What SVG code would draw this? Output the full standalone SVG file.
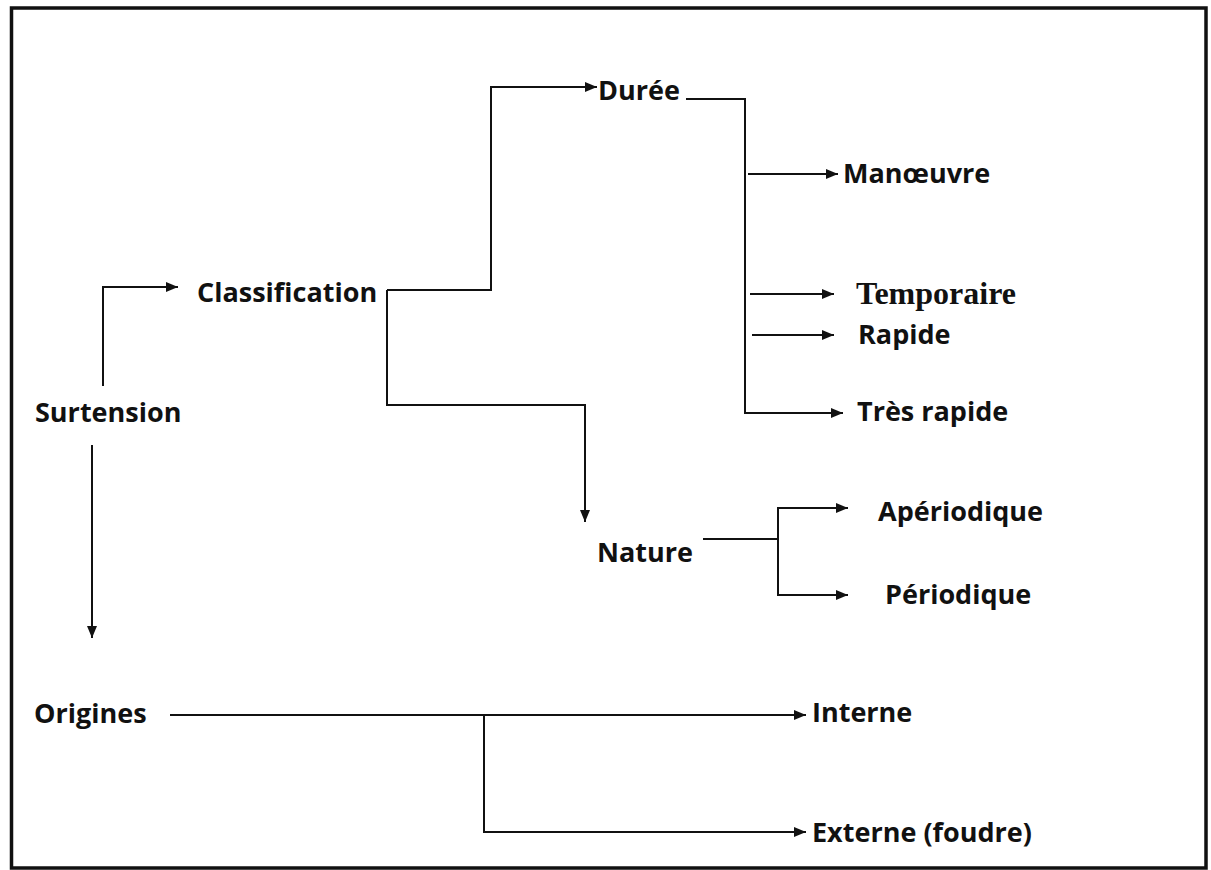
<svg xmlns="http://www.w3.org/2000/svg" width="1211" height="870" viewBox="0 0 1211 870">
<style>
.t{font-family:"Open Sans","Liberation Sans",sans-serif;font-weight:bold;font-size:27px;fill:#111;}
.s{font-family:"Liberation Serif",serif;font-weight:bold;font-size:32px;fill:#111;}
.c{fill:none;stroke:#111;stroke-width:2;}
.a{marker-end:url(#ah);}
</style>
<defs>
<marker id="ah" markerUnits="userSpaceOnUse" markerWidth="12" markerHeight="10" refX="12" refY="5" orient="auto">
<path d="M0,0 L12,5 L0,10 Z" fill="#111"/>
</marker>
</defs>
<rect x="11.5" y="8" width="1194.5" height="860" fill="#fff" stroke="#111" stroke-width="3.5"/>
<g id="connectors">
<path class="c a" d="M103,386 V287 H178"/>
<path class="c a" d="M92,445 V638"/>
<path class="c a" d="M387,290 H491 V87 H597"/>
<path class="c a" d="M387,290 V405 H585 V522"/>
<path class="c a" d="M686,99 H745 V413 H843"/>
<path class="c a" d="M748,174 H838"/>
<path class="c a" d="M750,294 H834"/>
<path class="c a" d="M752,335 H834"/>
<path class="c" d="M703,539 H778"/>
<path class="c a" d="M778,539 V508 H848"/>
<path class="c a" d="M778,539 V595 H848"/>
<path class="c a" d="M170,715 H806"/>
<path class="c a" d="M484,715 V832 H806"/>
</g>
<g id="surtension"><text class="t" x="35" y="422">Surtension</text></g>
<g id="classification"><text class="t" x="197" y="302">Classification</text></g>
<g id="duree"><text class="t" x="598" y="100">Durée</text></g>
<g id="manoeuvre"><text class="t" x="843" y="183">Manœuvre</text></g>
<g id="temporaire"><text class="s" x="856" y="304">Temporaire</text></g>
<g id="rapide"><text class="t" x="858" y="344">Rapide</text></g>
<g id="tres-rapide"><text class="t" x="857" y="421">Très rapide</text></g>
<g id="nature"><text class="t" x="597" y="562">Nature</text></g>
<g id="aperiodique"><text class="t" x="878" y="521">Apériodique</text></g>
<g id="periodique"><text class="t" x="885" y="604">Périodique</text></g>
<g id="origines"><text class="t" x="34" y="723">Origines</text></g>
<g id="interne"><text class="t" x="812" y="722">Interne</text></g>
<g id="externe"><text class="t" x="812" y="842">Externe (foudre)</text></g>
</svg>
